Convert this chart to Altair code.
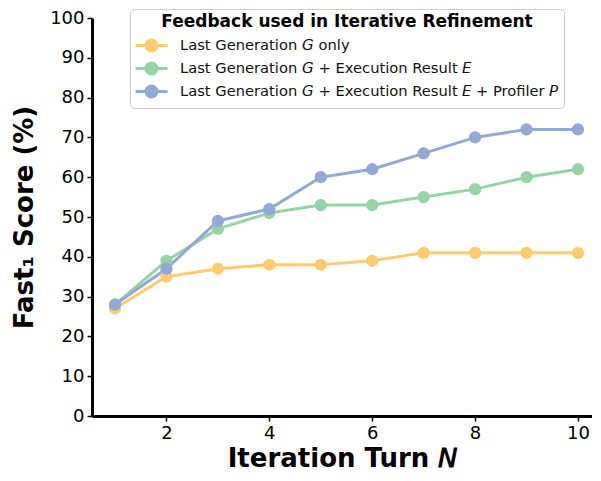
import altair as alt
import pandas as pd

turns = [1, 2, 3, 4, 5, 6, 7, 8, 9, 10]
series_names = [
    "Last Generation 𝘎 only",
    "Last Generation 𝘎 + Execution Result 𝘌",
    "Last Generation 𝘎 + Execution Result 𝘌 + Profiler 𝘗",
]
g_only = [27, 35, 37, 38, 38, 39, 41, 41, 41, 41]
g_exec = [28, 39, 47, 51, 53, 53, 55, 57, 60, 62]
g_exec_prof = [28, 37, 49, 52, 60, 62, 66, 70, 72, 72]
colors = ["#FECB72", "#96D3A6", "#92A9D6"]
y_ticks = [0, 10, 20, 30, 40, 50, 60, 70, 80, 90, 100]
x_ticks = [2, 4, 6, 8, 10]

rows = []
for name, vals in zip(series_names, [g_only, g_exec, g_exec_prof]):
    for t, v in zip(turns, vals):
        rows.append({"turn": t, "score": v, "series": name})
df = pd.DataFrame(rows)

color = alt.Color(
    "series:N",
    scale=alt.Scale(domain=series_names, range=colors),
    sort=series_names,
    legend=alt.Legend(
        title="Feedback used in Iterative Refinement",
        orient="none",
        legendX=38,
        legendY=-9,
        direction="vertical",
        titleFontSize=17,
        titleFontWeight="bold",
        titleColor="#000000",
        titleFont="DejaVu Sans",
        titleAnchor="middle",
        titleAlign="center",
        titleLimit=600,
        titlePadding=3,
        labelFontSize=14.7,
        labelFont="DejaVu Sans",
        labelColor="#111111",
        labelLimit=500,
        labelOffset=17,
        symbolType="M-1.6,0L1.6,0M-0.55,0A0.55,0.55,0,1,1,0.55,0A0.55,0.55,0,1,1,-0.55,0Z",
        symbolSize=400,
        symbolStrokeWidth=3,
        symbolOffset=5,
        rowPadding=0,
        padding=5,
        fillColor="white",
        strokeColor="#cccccc",
        cornerRadius=4,
    ),
)

x = alt.X(
    "turn:Q",
    scale=alt.Scale(domain=[0.553, 10.273], nice=False, zero=False),
    axis=alt.Axis(
        values=x_ticks,
        title="Iteration Turn 𝘕",
        titleFontSize=26,
        titleFontWeight="bold",
        titlePadding=3,
        labelFontSize=18,
        labelPadding=3,
        tickSize=5,
        grid=False,
        format="d",
    ),
)
y = alt.Y(
    "score:Q",
    scale=alt.Scale(domain=[0, 100], nice=False),
    axis=alt.Axis(
        values=y_ticks,
        title="Fast₁ Score (%)",
        titleFontSize=26,
        titleFontWeight="bold",
        titlePadding=12,
        labelFontSize=18,
        labelPadding=3,
        tickSize=5,
        grid=False,
    ),
)

base = alt.Chart(df).encode(x=x, y=y, color=color, order=alt.Order("turn:Q"))
lines = base.mark_line(strokeWidth=3, point=alt.OverlayMarkDef(filled=True, size=150, opacity=1))

chart = (
    lines.properties(width=500, height=398)
    .properties(
        autosize=alt.AutoSizeParams(type="none"),
        padding={"left": 84, "top": 10, "right": 0, "bottom": 57},
    )
    .configure(font="DejaVu Sans")
    .configure_view(stroke=None)
    .configure_axis(
        domainColor="#000000",
        domainWidth=3,
        tickColor="#000000",
        tickWidth=1.5,
        labelColor="#000000",
        titleColor="#000000",
        labelFont="DejaVu Sans",
        titleFont="DejaVu Sans",
    )
)

chart.save("out.html", embed_options={"renderer": "svg", "actions": False})
